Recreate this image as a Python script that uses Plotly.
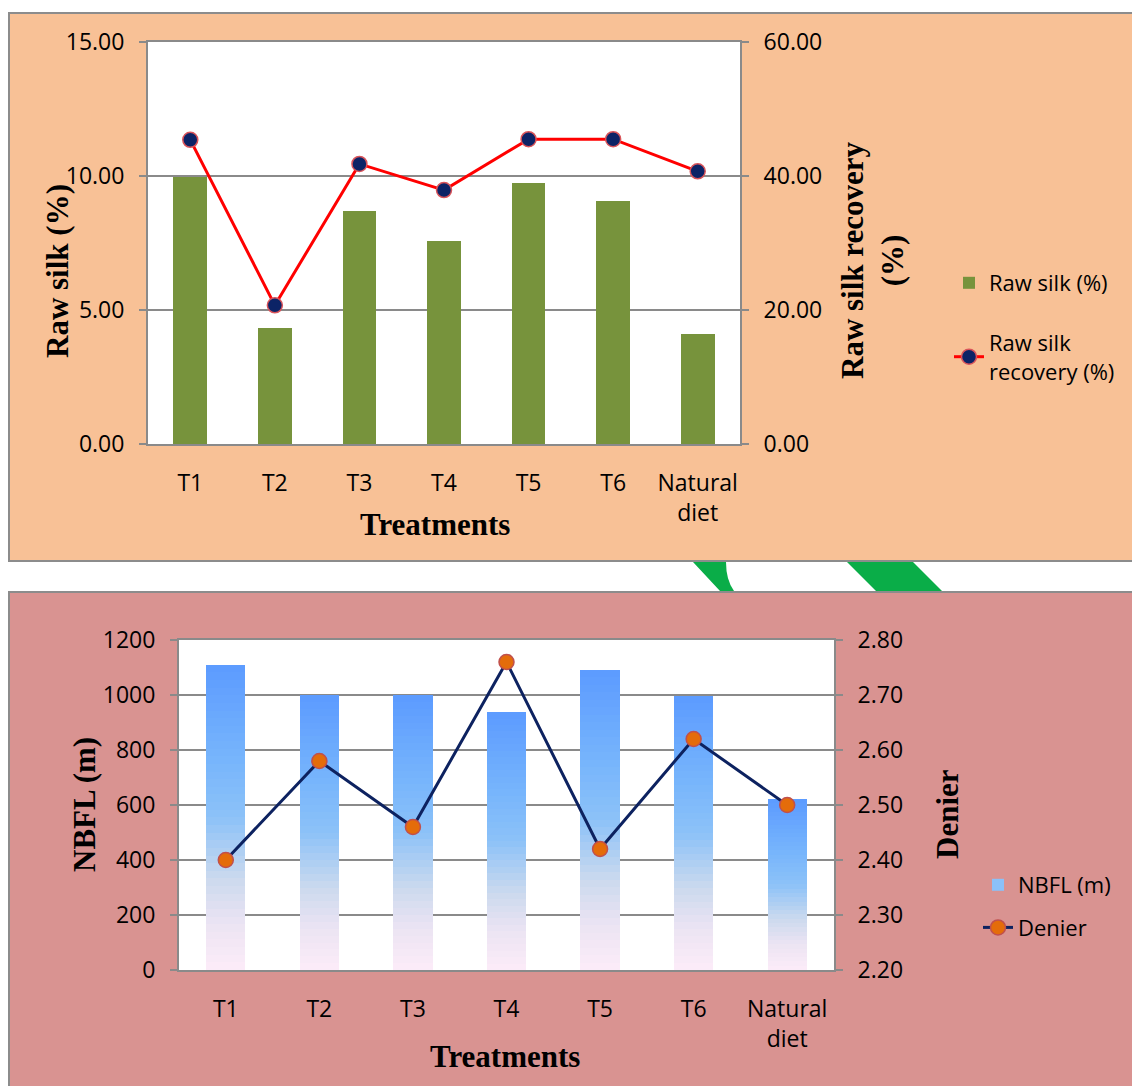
import plotly.graph_objects as go

# ---------------- data ----------------
treatments = ["T1", "T2", "T3", "T4", "T5", "T6", "Natural<br>diet"]
raw_silk = [9.95, 4.33, 8.70, 7.57, 9.74, 9.07, 4.10]
raw_silk_recovery = [45.4, 20.7, 41.8, 37.9, 45.5, 45.5, 40.7]
nbfl = [1110, 1000, 1000, 938, 1091, 996, 622]
denier = [2.40, 2.58, 2.46, 2.76, 2.42, 2.62, 2.50]

raw_silk_ticks = [0, 5, 10, 15]
recovery_ticks = [0, 20, 40, 60]
nbfl_ticks = [0, 200, 400, 600, 800, 1000, 1200]
denier_ticks = [2.20, 2.30, 2.40, 2.50, 2.60, 2.70, 2.80]

# ---------------- layout helpers ----------------
FIG_W, FIG_H = 1132, 1086


def px(x):
    return x / FIG_W


def py(y):
    return 1 - y / FIG_H


GRID = "#8A8A8A"
TICKFONT = dict(family="Open Sans", size=23, color="#000000")
TITLEFONT = dict(family="Liberation Serif", size=31, color="#000000")
LEGFONT = dict(family="Open Sans", size=22, color="#000000")
TOP_BG = "#F8C196"
BOT_BG = "#D99391"

fig = go.Figure()

# ---------- top chart ----------
fig.add_trace(go.Bar(
    x=treatments, y=raw_silk, name="Raw silk (%)",
    marker=dict(color="#77933C", line=dict(width=0)), width=0.40,
    xaxis="x", yaxis="y", legend="legend", legendgroup="a",
))
fig.add_trace(go.Scatter(
    x=treatments, y=raw_silk_recovery, name="Raw silk<br>recovery (%)",
    mode="lines+markers",
    line=dict(color="#FF0000", width=3),
    marker=dict(color="#0C2366", size=15, line=dict(color="#D9545A", width=1.5)),
    xaxis="x", yaxis="y2", legend="legend", legendgroup="b",
))

# ---------- bottom chart: gradient bars (stacked slices of each bar) ----------
stops = [
    (0.00, (252, 236, 248)),
    (0.15, (236, 228, 243)),
    (0.30, (203, 217, 238)),
    (0.50, (140, 194, 248)),
    (0.70, (118, 180, 252)),
    (1.00, (92, 155, 255)),
]


def grad(t):
    for (t0, c0), (t1, c1) in zip(stops[:-1], stops[1:]):
        if t0 <= t <= t1:
            f = (t - t0) / (t1 - t0)
            c = [round(a + (b - a) * f) for a, b in zip(c0, c1)]
            return f"rgb({c[0]},{c[1]},{c[2]})"
    c = stops[-1][1]
    return f"rgb({c[0]},{c[1]},{c[2]})"


N = 40
for k in range(N):
    fig.add_trace(go.Bar(
        x=treatments, y=[v / N for v in nbfl], name="NBFL (m)",
        marker=dict(color=grad((k + 0.5) / N), line=dict(width=0)), width=0.42,
        xaxis="x2", yaxis="y3", legend="legend2", legendgroup="nbfl",
        showlegend=(k == N // 2), hoverinfo="skip" if k else None,
    ))

fig.add_trace(go.Scatter(
    x=treatments, y=denier, name="Denier", mode="lines+markers",
    line=dict(color="#0D2260", width=3),
    marker=dict(color="#E46C0A", size=15, line=dict(color="#C0504D", width=1.5)),
    xaxis="x2", yaxis="y4", legend="legend2", legendgroup="den",
))

axis_common = dict(
    showline=True, linecolor=GRID, linewidth=2, zeroline=False,
    tickfont=TICKFONT, automargin=False,
)
yax_common = dict(
    axis_common, ticks="outside", ticklen=7, tickwidth=2, tickcolor=GRID,
    tickmode="array", ticklabelstandoff=10,
)

shapes = [
    # panels
    dict(type="rect", xref="paper", yref="paper", x0=px(9), x1=px(1150), y0=py(561), y1=py(13),
         fillcolor=TOP_BG, line=dict(color="#8C8C8C", width=2), layer="below"),
    dict(type="rect", xref="paper", yref="paper", x0=px(9), x1=px(1150), y0=py(1110), y1=py(592),
         fillcolor=BOT_BG, line=dict(color="#8C8C8C", width=2), layer="below"),
    # green arrow pieces between the panels
    dict(type="path", xref="paper", yref="paper", layer="below",
         path=f"M {px(693)},{py(562)} L {px(726)},{py(562)} Q {px(726)},{py(580)} {px(734)},{py(591)} L {px(720)},{py(591)} Z",
         fillcolor="#0AAD48", line=dict(width=0)),
    dict(type="path", xref="paper", yref="paper", layer="below",
         path=f"M {px(847)},{py(562)} L {px(913)},{py(562)} L {px(942)},{py(591)} L {px(876)},{py(591)} Z",
         fillcolor="#0AAD48", line=dict(width=0)),
    # white plot areas
    dict(type="rect", xref="x domain", yref="y domain", x0=0, x1=1, y0=0, y1=1,
         fillcolor="white", line=dict(width=0), layer="below"),
    dict(type="rect", xref="x2 domain", yref="y3 domain", x0=0, x1=1, y0=0, y1=1,
         fillcolor="white", line=dict(width=0), layer="below"),
]

annotations = [
    dict(text="<b>Raw silk (%)</b>", x=px(58), y=py(271), textangle=-90),
    dict(text="<b>Raw silk recovery<br>(%)</b>", x=px(872), y=py(260), textangle=-90),
    dict(text="<b>Treatments</b>", x=px(435), y=py(525)),
    dict(text="<b>NBFL (m)</b>", x=px(84), y=py(805), textangle=-90),
    dict(text="<b>Denier</b>", x=px(947), y=py(814), textangle=-90),
    dict(text="<b>Treatments</b>", x=px(505), y=py(1056)),
]
for a in annotations:
    a.update(xref="paper", yref="paper", xanchor="center", yanchor="middle",
             showarrow=False, font=TITLEFONT)

fig.update_layout(
    width=FIG_W, height=FIG_H,
    margin=dict(l=0, r=0, t=0, b=0, autoexpand=False),
    paper_bgcolor="white", plot_bgcolor="white",
    barmode="stack", showlegend=True,
    xaxis=dict(axis_common, domain=[px(148), px(740)], anchor="y", type="category",
               mirror=True, ticks="", ticklabelstandoff=17),
    yaxis=dict(yax_common, domain=[py(444), py(42)], anchor="x", range=[0, 15],
               tickvals=raw_silk_ticks, ticktext=[f"{v:.2f}" for v in raw_silk_ticks],
               showgrid=True, gridcolor=GRID, gridwidth=2),
    yaxis2=dict(yax_common, overlaying="y", side="right", anchor="x", range=[0, 60],
                tickvals=recovery_ticks, ticktext=[f"{v:.2f}" for v in recovery_ticks],
                showgrid=False),
    xaxis2=dict(axis_common, domain=[px(179), px(834)], anchor="y3", type="category",
                mirror=True, ticks="", ticklabelstandoff=17),
    yaxis3=dict(yax_common, domain=[py(970), py(640)], anchor="x2", range=[0, 1200],
                tickvals=nbfl_ticks, ticktext=[str(v) for v in nbfl_ticks],
                showgrid=True, gridcolor=GRID, gridwidth=2),
    yaxis4=dict(yax_common, overlaying="y3", side="right", anchor="x2", range=[2.2, 2.8],
                tickvals=denier_ticks, ticktext=[f"{v:.2f}" for v in denier_ticks],
                showgrid=False),
    legend=dict(x=px(949), y=py(262), xanchor="left", yanchor="top",
                font=LEGFONT, bgcolor="rgba(0,0,0,0)", tracegroupgap=28),
    legend2=dict(x=px(978), y=py(864), xanchor="left", yanchor="top",
                 font=LEGFONT, bgcolor="rgba(0,0,0,0)", tracegroupgap=11),
    shapes=shapes, annotations=annotations,
)

fig.write_html(
    "out.html",
    config={"displayModeBar": False},
    post_script="document.body.style.margin='0';document.body.style.overflow='hidden';",
)
